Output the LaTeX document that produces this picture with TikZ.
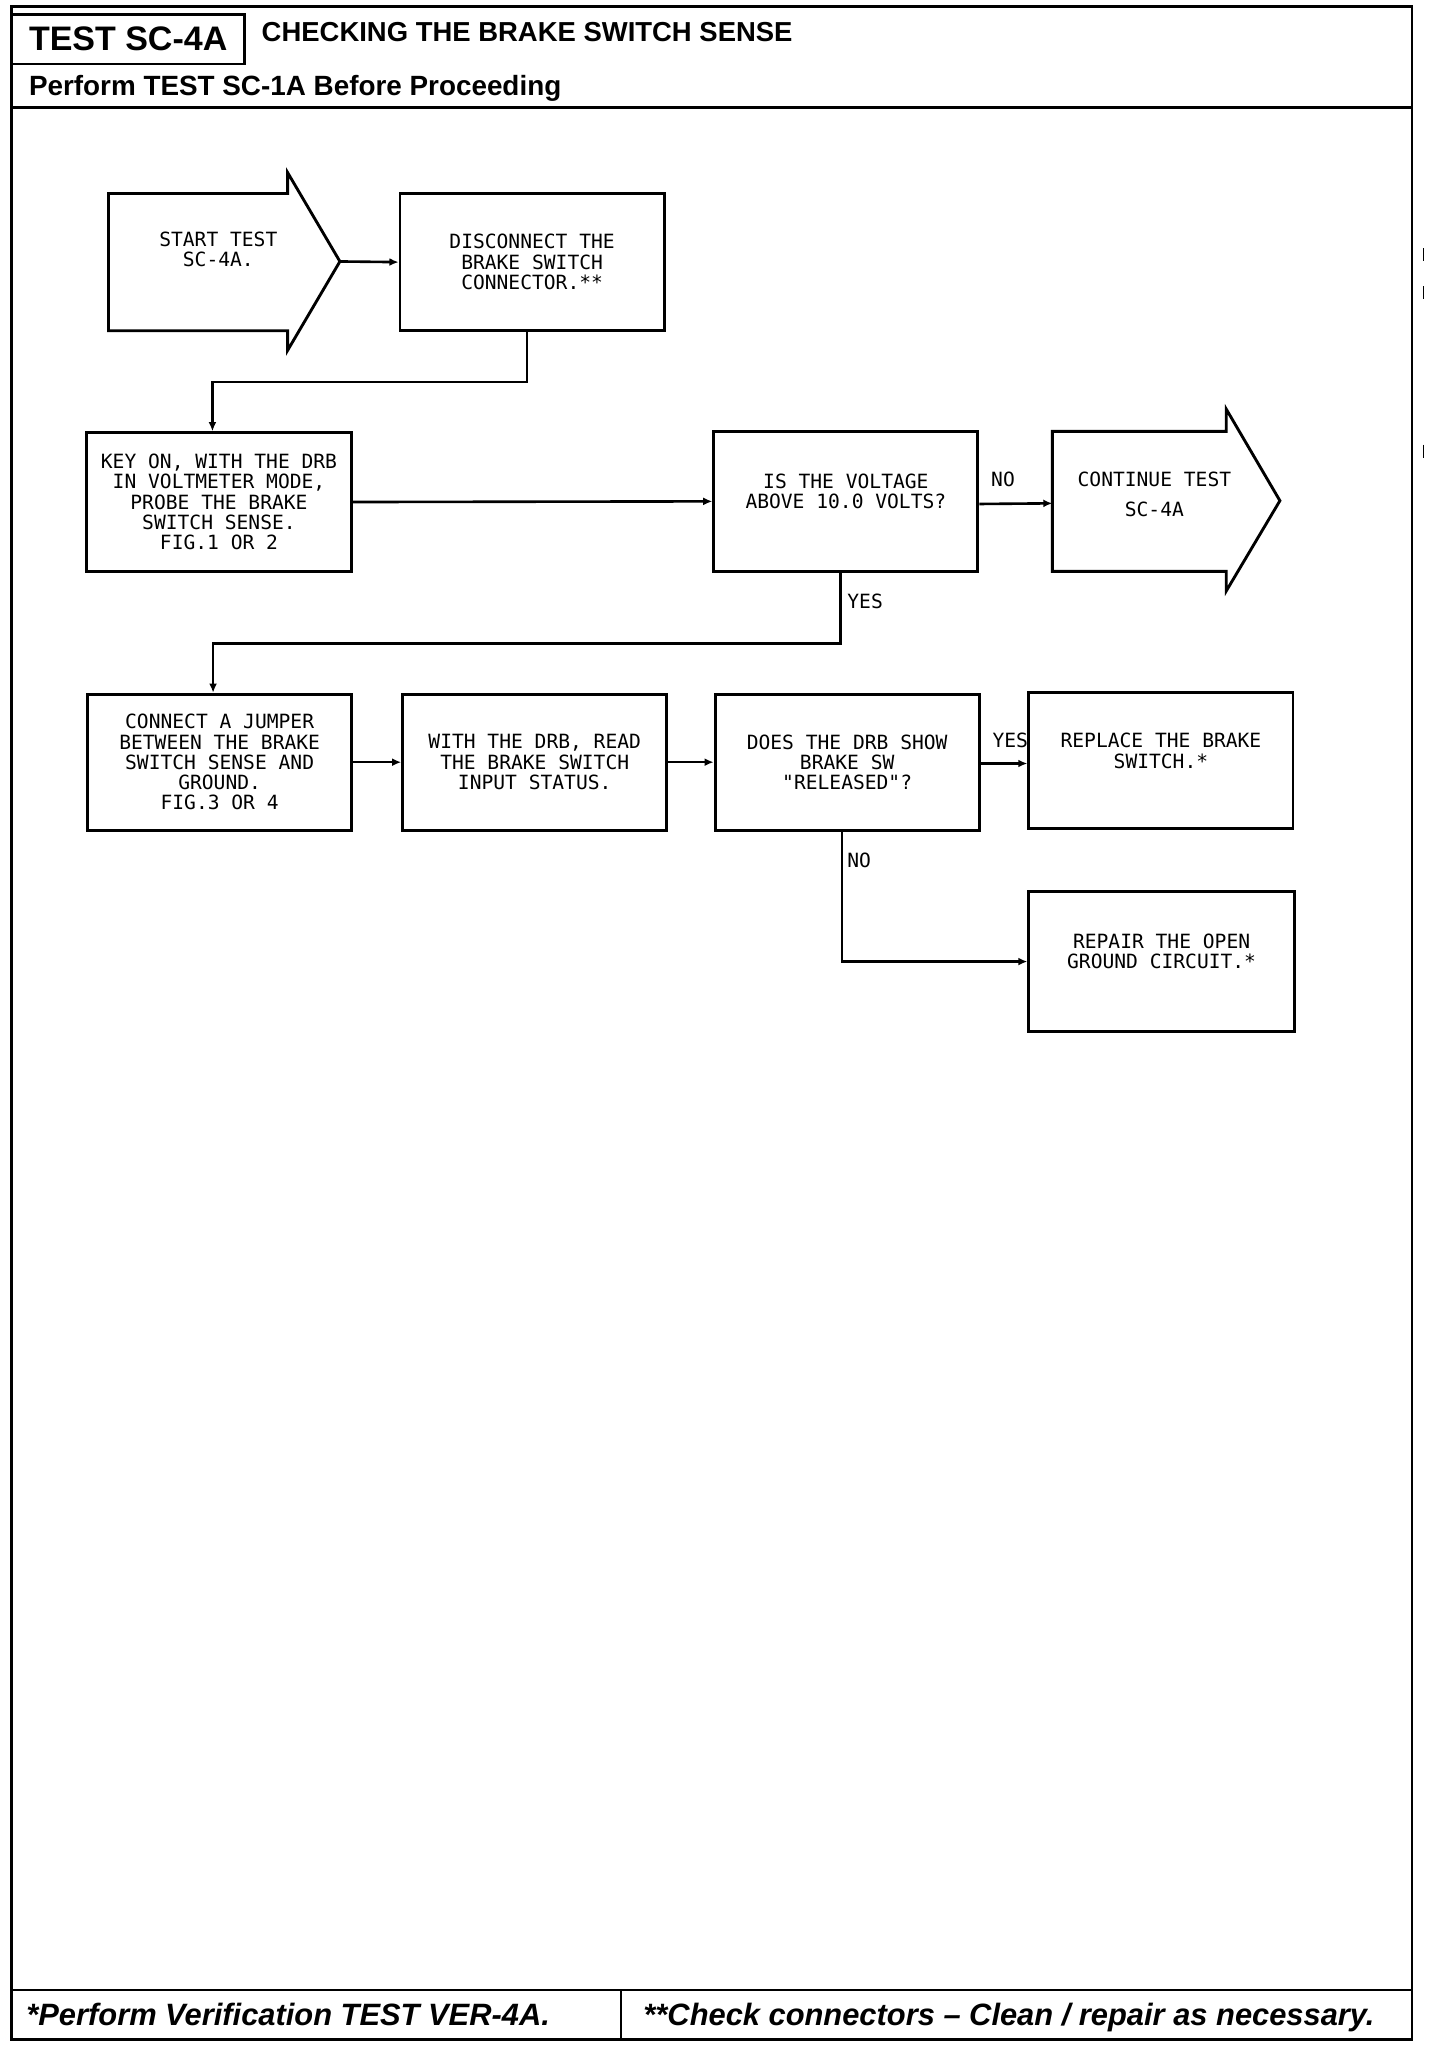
\documentclass[tikz,border=0pt]{standalone}
\usepackage{fontspec}
\setmainfont{Liberation Sans}
\newfontfamily\plotfont{DejaVu Sans Mono}
\usetikzlibrary{arrows.meta}
\begin{document}
\begin{tikzpicture}[x=1pt,y=-1pt,
  frame/.style={line width=2pt},
  box/.style={draw, line width=2.2pt, rectangle, inner sep=0pt, align=center,
    font=\plotfont\fontsize{15}{15.5}\selectfont},
  arrowshape/.style={draw, line width=2.2pt, line join=miter},
  ptext/.style={inner sep=0pt, align=center, font=\plotfont\fontsize{15}{15.5}\selectfont},
  conn/.style={draw, line width=2pt, -{Latex[length=7pt,width=6pt]}},
  lbl/.style={inner sep=0pt, anchor=west, font=\plotfont\fontsize{15}{15}\selectfont},
  head/.style={inner sep=0pt, anchor=base west, font=\bfseries},
  foot/.style={inner sep=0pt, anchor=base west, font=\bfseries\itshape\fontsize{23.6}{23.6}\selectfont}]
\useasboundingbox[fill=white] (0,0) rectangle (1101.5,1565);
% ---------- frame ----------
\draw[frame] (9,5) -- (1080,5) -- (1080,1560) -- (9,1560) -- cycle;
\draw[frame] (9,11) -- (187,11) -- (187,49) -- (9,49);
\draw[frame] (9,82) -- (1080,82);
\draw[frame] (9,1522) -- (1080,1522);
\draw[frame] (475,1522) -- (475,1560);
\draw[line width=1pt] (1089,190) -- (1089,200);
\draw[line width=1pt] (1089,219) -- (1089,229);
\draw[line width=1pt] (1089,340) -- (1089,350);
% ---------- header texts ----------
\node[head, font=\bfseries\fontsize{26}{26}\selectfont] (t1) at (22,39) {TEST SC-4A};
\node[head, font=\bfseries\fontsize{21}{21}\selectfont] (t2) at (200,32) {CHECKING THE BRAKE SWITCH SENSE};
\node[head, font=\bfseries\fontsize{21.3}{21.3}\selectfont] (t3) at (22,73) {Perform TEST SC-1A Before Proceeding};
\node[foot] (f1) at (20,1549) {*Perform Verification TEST VER-4A.};
\node[foot] (f2) at (492,1549) {**Check connectors -- Clean / repair as necessary.};
% ---------- start arrow ----------
\draw[arrowshape] (83,148) -- (220,148) -- (220,132) -- (260,200) -- (220,268) -- (220,253) -- (83,253) -- cycle;
\coordinate (starttip) at (260,200);
\node[ptext] (start) at (167,191) {START TEST\\SC-4A.};
% ---------- boxes ----------
\node[box, minimum width=202pt, minimum height=105pt] (disc) at (407,200.5) {DISCONNECT THE\\BRAKE SWITCH\\CONNECTOR.**};
\node[box, minimum width=203pt, minimum height=106pt] (key) at (167.5,384) {KEY ON, WITH THE DRB\\IN VOLTMETER MODE,\\PROBE THE BRAKE\\SWITCH SENSE.\\FIG.1 OR 2};
\node[box, minimum width=202pt, minimum height=107pt] (volt) at (647,383.5) {IS THE VOLTAGE\\ABOVE 10.0 VOLTS?\\\mbox{}};
% continue arrow
\draw[arrowshape] (805,330) -- (938,330) -- (938,313) -- (979,383) -- (938,452) -- (938,437) -- (805,437) -- cycle;
\coordinate (contin) at (805,383);
\node[ptext, font=\plotfont\fontsize{15}{23}\selectfont] (cont) at (883,378) {CONTINUE TEST\\SC-4A};
\node[box, minimum width=202pt, minimum height=104pt] (jump) at (168,583) {CONNECT A JUMPER\\BETWEEN THE BRAKE\\SWITCH SENSE AND\\GROUND.\\FIG.3 OR 4};
\node[box, minimum width=202pt, minimum height=104pt] (read) at (409,583) {WITH THE DRB, READ\\THE BRAKE SWITCH\\INPUT STATUS.};
\node[box, minimum width=202pt, minimum height=104pt] (does) at (648,583) {DOES THE DRB SHOW\\BRAKE SW\\"RELEASED"?};
\node[box, minimum width=202pt, minimum height=104pt] (repl) at (888,582) {REPLACE THE BRAKE\\SWITCH.*\\\mbox{}};
\node[box, minimum width=203pt, minimum height=107pt] (rep) at (888.5,735.5) {REPAIR THE OPEN\\GROUND CIRCUIT.*\\\mbox{}};
% ---------- connectors ----------
\draw[conn] (starttip) -- (disc.west);
\draw[conn] ([xshift=-4pt]disc.south) -- ++(0,38) -| ([xshift=-5pt]key.north);
\draw[conn] (key.east) -- (volt.west);
\draw[conn] ([yshift=-2pt]volt.east) -- ([yshift=-2pt]contin);
\node[lbl] (no1) at (758,367) {NO};
\draw[conn] ([xshift=-4pt]volt.south) -- ++(0,54) -| ([xshift=-5pt]jump.north);
\node[lbl] (yes1) at (648,460) {YES};
\draw[conn] (jump.east) -- (read.west);
\draw[conn] (read.east) -- (does.west);
\draw[conn] ([yshift=-1pt]does.east) -- ([yshift=-1pt]does.east -| repl.west);
\node[lbl] (yes2) at (759,566) {YES};
\draw[conn] ([xshift=-4pt]does.south) -- ([xshift=-4pt]does.south |- rep.west) -- (rep.west);
\node[lbl] (no2) at (648,658) {NO};
\end{tikzpicture}
\end{document}
